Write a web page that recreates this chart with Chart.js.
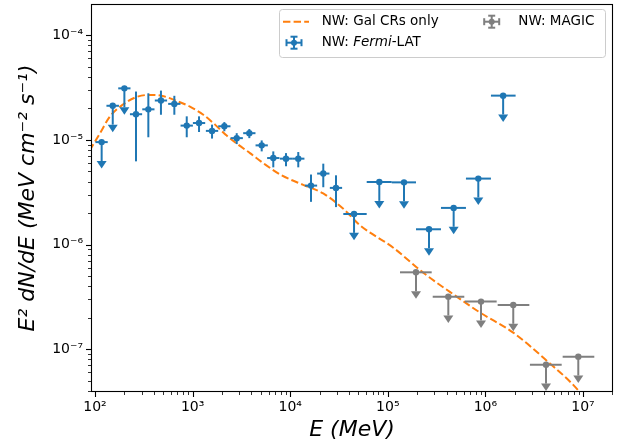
<!DOCTYPE html>
<html lang="en">
<head>
<meta charset="UTF-8">
<title>NW spectrum</title>
<script src="https://cdn.jsdelivr.net/npm/chart.js"></script>
<style>
  html, body { margin: 0; padding: 0; background: #fff; }
  canvas { display: block; }
</style>
</head>
<body>
<canvas id="sed" width="627" height="448"></canvas>
<script>
// model: Galactic CRs only (E in MeV, E^2 dN/dE in MeV cm^-2 s^-1)
const modelE = [88, 112.6, 142.5, 195, 257, 352, 482, 687, 940, 1288, 1698, 2235, 2938, 3873, 5298,
                8050, 13600, 21800, 35000, 51900, 113800, 231000, 508000, 881000, 1930000, 4250000,
                8950000, 11500000];
const modelF = [7.9e-6, 1.16e-5, 1.68e-5, 2.19e-5, 2.54e-5, 2.69e-5, 2.64e-5, 2.36e-5, 2.08e-5, 1.74e-5,
                1.40e-5, 1.10e-5, 9.0e-6, 7.48e-6, 6.0e-6, 4.62e-6, 3.72e-6, 3.08e-6, 2.20e-6, 1.53e-6,
                9.33e-7, 5.38e-7, 3.18e-7, 2.24e-7, 1.44e-7, 7.76e-8, 4.03e-8, 2.9e-8];

// Fermi-LAT flux points
const fermiE   = [263, 352, 474, 650, 871, 1164, 1582, 2115, 2832, 3812, 5105, 6711, 9057, 12100, 16330, 21830, 29450];
const fermiElo = [228, 305, 410, 562, 753, 1007, 1368, 1830, 2450, 3298, 4416, 5805, 7835, 10470, 14130, 18880, 25480];
const fermiEhi = [304, 407, 548, 751, 1007, 1346, 1829, 2445, 3274, 4407, 5901, 7758, 10470, 13990, 18880, 25240, 34040];
const fermiF   = [1.76e-5, 1.96e-5, 2.38e-5, 2.21e-5, 1.37e-5, 1.45e-5, 1.22e-5, 1.35e-5, 1.04e-5, 1.16e-5,
                  8.87e-6, 6.71e-6, 6.62e-6, 6.62e-6, 3.66e-6, 4.77e-6, 3.48e-6];
const fermiFlo = [6.24e-6, 1.06e-5, 1.74e-5, 1.74e-5, 1.06e-5, 1.19e-5, 1.03e-5, 1.21e-5, 9.12e-6, 1.04e-5,
                  7.77e-6, 5.47e-6, 5.60e-6, 5.47e-6, 2.56e-6, 3.53e-6, 2.28e-6];
const fermiFhi = [2.90e-5, 2.79e-5, 2.96e-5, 2.64e-5, 1.68e-5, 1.68e-5, 1.40e-5, 1.48e-5, 1.16e-5, 1.27e-5,
                  9.89e-6, 7.77e-6, 7.48e-6, 7.66e-6, 4.67e-6, 5.93e-6, 4.59e-6];

// Fermi-LAT upper limits
const fermiUlE   = [117, 152, 200, 45100, 81850, 146600, 264400, 473000, 846000, 1520000];
const fermiUlElo = [101, 131, 173, 35000, 60800, 109700, 194500, 350600, 632000, 1140000];
const fermiUlEhi = [135, 176, 231, 60800, 109700, 194500, 350600, 632000, 1140000, 2040000];
const fermiUlF   = [9.53e-6, 2.12e-5, 3.11e-5, 1.96e-6, 3.96e-6, 3.93e-6, 1.40e-6, 2.24e-6, 4.27e-6, 2.65e-5];

// MAGIC upper limits
const magicE   = [194500, 417000, 902000, 1930000, 4180000, 8950000];
const magicElo = [133400, 288600, 618000, 1336000, 2860000, 6190000];
const magicEhi = [281700, 608000, 1305000, 2820000, 6050000, 13060000];
const magicF   = [5.43e-7, 3.18e-7, 2.85e-7, 2.65e-7, 7.11e-8, 8.49e-8];

const xTicks = [1e2, 1e3, 1e4, 1e5, 1e6, 1e7];
const xTickLabels = ['10²', '10³', '10⁴', '10⁵', '10⁶', '10⁷'];
const yTicks = [1e-7, 1e-6, 1e-5, 1e-4];
const yTickLabels = ['10⁻⁷', '10⁻⁶', '10⁻⁵', '10⁻⁴'];

const BLUE = '#1f77b4';
const ORANGE = '#ff7f0e';
const GREY = '#7f7f7f';
const ARROW = 0.66;   // where the upper-limit shaft ends, relative to the limit
const FONT = 'DejaVu Sans';

Chart.defaults.font.family = FONT;
Chart.defaults.color = '#000';

const pts = (xs, ys) => xs.map((v, i) => ({x: v, y: ys[i]}));

function line(ctx, x0, y0, x1, y1) {
  ctx.beginPath();
  ctx.moveTo(x0, y0);
  ctx.lineTo(x1, y1);
  ctx.stroke();
}

function upperLimits(ctx, x, y, E, Elo, Ehi, F, color) {
  ctx.strokeStyle = color;
  ctx.fillStyle = color;
  E.forEach((e, i) => {
    const px = x.getPixelForValue(e);
    const py = y.getPixelForValue(F[i]);
    const pe = y.getPixelForValue(F[i] * ARROW);
    line(ctx, x.getPixelForValue(Elo[i]), py, x.getPixelForValue(Ehi[i]), py);
    line(ctx, px, py, px, pe);
    ctx.beginPath();
    ctx.moveTo(px - 5, pe);
    ctx.lineTo(px + 5, pe);
    ctx.lineTo(px, pe + 7.5);
    ctx.closePath();
    ctx.fill();
  });
}

const errorBars = {
  id: 'errorBars',
  afterDatasetsDraw(chart) {
    const {ctx, scales: {x, y}} = chart;
    ctx.save();
    ctx.lineWidth = 2;
    ctx.strokeStyle = BLUE;
    fermiE.forEach((e, i) => {
      const px = x.getPixelForValue(e);
      const py = y.getPixelForValue(fermiF[i]);
      line(ctx, x.getPixelForValue(fermiElo[i]), py, x.getPixelForValue(fermiEhi[i]), py);
      line(ctx, px, y.getPixelForValue(fermiFlo[i]), px, y.getPixelForValue(fermiFhi[i]));
    });
    upperLimits(ctx, x, y, fermiUlE, fermiUlElo, fermiUlEhi, fermiUlF, BLUE);
    upperLimits(ctx, x, y, magicE, magicElo, magicEhi, magicF, GREY);
    ctx.restore();
  }
};

function errIcon(ctx, cx, cy, color) {
  ctx.strokeStyle = color;
  ctx.fillStyle = color;
  ctx.lineWidth = 2;
  line(ctx, cx - 7.5, cy, cx + 7.5, cy);
  line(ctx, cx - 7.5, cy - 3.5, cx - 7.5, cy + 3.5);
  line(ctx, cx + 7.5, cy - 3.5, cx + 7.5, cy + 3.5);
  line(ctx, cx, cy - 6, cx, cy + 6);
  line(ctx, cx - 3.5, cy - 6, cx + 3.5, cy - 6);
  line(ctx, cx - 3.5, cy + 6, cx + 3.5, cy + 6);
  ctx.beginPath();
  ctx.arc(cx, cy, 3, 0, Math.PI * 2);
  ctx.fill();
}

const frame = {
  id: 'frame',
  afterDraw(chart) {
    const {ctx, chartArea: a, scales: {x, y}} = chart;
    ctx.save();
    ctx.strokeStyle = '#000';
    // minor and major ticks, pointing out
    for (let e = 1; e <= 7; e++) {
      for (let m = 1; m < 10; m++) {
        const v = m * Math.pow(10, e);
        if (v < x.min || v > x.max) continue;
        const p = Math.round(x.getPixelForValue(v)) + 0.5;
        ctx.lineWidth = m === 1 ? 1.1 : 0.8;
        line(ctx, p, a.bottom, p, a.bottom + (m === 1 ? 5 : 3));
      }
    }
    for (let e = -8; e <= -4; e++) {
      for (let m = 1; m < 10; m++) {
        const v = m * Math.pow(10, e);
        if (v < y.min || v > y.max) continue;
        const p = Math.round(y.getPixelForValue(v)) + 0.5;
        ctx.lineWidth = m === 1 ? 1.1 : 0.8;
        line(ctx, a.left, p, a.left - (m === 1 ? 5 : 3), p);
      }
    }
    ctx.lineWidth = 1.1;
    ctx.strokeRect(a.left + 0.5, a.top + 0.5, a.right - a.left - 1, a.bottom - a.top - 1);

    // legend
    const lx = 279, ly = 9, lw = 326, lh = 48;
    ctx.beginPath();
    ctx.roundRect(lx + 0.5, ly + 0.5, lw, lh, 3);
    ctx.fillStyle = 'rgba(255,255,255,0.8)';
    ctx.fill();
    ctx.strokeStyle = '#cccccc';
    ctx.lineWidth = 1;
    ctx.stroke();

    ctx.strokeStyle = ORANGE;
    ctx.lineWidth = 2;
    ctx.setLineDash([7.4, 3.2]);
    line(ctx, 283, 21.7, 309, 21.7);
    ctx.setLineDash([]);
    errIcon(ctx, 294, 42.7, BLUE);
    errIcon(ctx, 491.7, 21.7, GREY);

    ctx.fillStyle = '#000';
    ctx.textBaseline = 'middle';
    ctx.textAlign = 'left';
    const reg = `13.5px "${FONT}"`, ita = `italic 13.5px "${FONT}"`;
    ctx.font = reg;
    ctx.fillText('NW: Gal CRs only', 321.7, 21.7);
    ctx.fillText('NW: MAGIC', 518.3, 21.7);
    let tx = 321.7;
    ctx.fillText('NW: ', tx, 42.7);
    tx += ctx.measureText('NW: ').width;
    ctx.font = ita;
    ctx.fillText('Fermi', tx, 42.7);
    tx += ctx.measureText('Fermi').width;
    ctx.font = reg;
    ctx.fillText('-LAT', tx, 42.7);
    ctx.restore();
  }
};

new Chart(document.getElementById('sed'), {
  type: 'scatter',
  data: {
    datasets: [{
      label: 'NW: Gal CRs only',
      data: pts(modelE, modelF),
      showLine: true,
      borderColor: ORANGE,
      borderWidth: 2,
      borderDash: [7.4, 3.2],
      pointRadius: 0,
      cubicInterpolationMode: 'monotone',
      clip: 0,
      order: 3
    }, {
      label: 'NW: Fermi-LAT',
      data: pts(fermiE, fermiF),
      backgroundColor: BLUE,
      borderWidth: 0,
      pointRadius: 3.2,
      order: 2
    }, {
      label: 'NW: Fermi-LAT UL',
      data: pts(fermiUlE, fermiUlF),
      backgroundColor: BLUE,
      borderWidth: 0,
      pointRadius: 3.2,
      order: 1
    }, {
      label: 'NW: MAGIC',
      data: pts(magicE, magicF),
      backgroundColor: GREY,
      borderWidth: 0,
      pointRadius: 3.2,
      order: 0
    }]
  },
  options: {
    responsive: false,
    animation: false,
    devicePixelRatio: 1,
    events: [],
    layout: {padding: {top: 2, right: 14, left: 0, bottom: 0}},
    plugins: {legend: {display: false}, tooltip: {enabled: false}},
    scales: {
      x: {
        type: 'logarithmic',
        position: 'bottom',
        min: 91,
        max: 2.03e7,
        bounds: 'data',
        grid: {display: false, drawTicks: false},
        border: {display: false},
        afterBuildTicks: s => { s.ticks = xTicks.map(v => ({value: v})); },
        afterFit: s => { s.height = 56; s.paddingLeft = 0; s.paddingRight = 0; },
        ticks: {
          autoSkip: false,
          maxRotation: 0,
          padding: 7,
          font: {size: 14},
          callback: v => xTickLabels[xTicks.indexOf(v)] || ''
        },
        title: {
          display: true,
          text: 'E (MeV)',
          font: {size: 22, style: 'italic'},
          padding: {top: 0, bottom: 5}
        }
      },
      y: {
        type: 'logarithmic',
        position: 'left',
        min: 3.9e-8,
        max: 1.99e-4,
        bounds: 'data',
        grid: {display: false, drawTicks: false},
        border: {display: false},
        afterBuildTicks: s => { s.ticks = yTicks.map(v => ({value: v})); },
        afterFit: s => { s.width = 91; s.paddingTop = 0; s.paddingBottom = 0; },
        ticks: {
          autoSkip: false,
          padding: 8,
          font: {size: 14},
          callback: v => yTickLabels[yTicks.indexOf(v)] || ''
        },
        title: {
          display: true,
          text: 'E² dN/dE (MeV cm⁻² s⁻¹)',
          font: {size: 22, style: 'italic'},
          padding: {top: 15, bottom: 0}
        }
      }
    }
  },
  plugins: [errorBars, frame]
});
</script>
</body>
</html>
